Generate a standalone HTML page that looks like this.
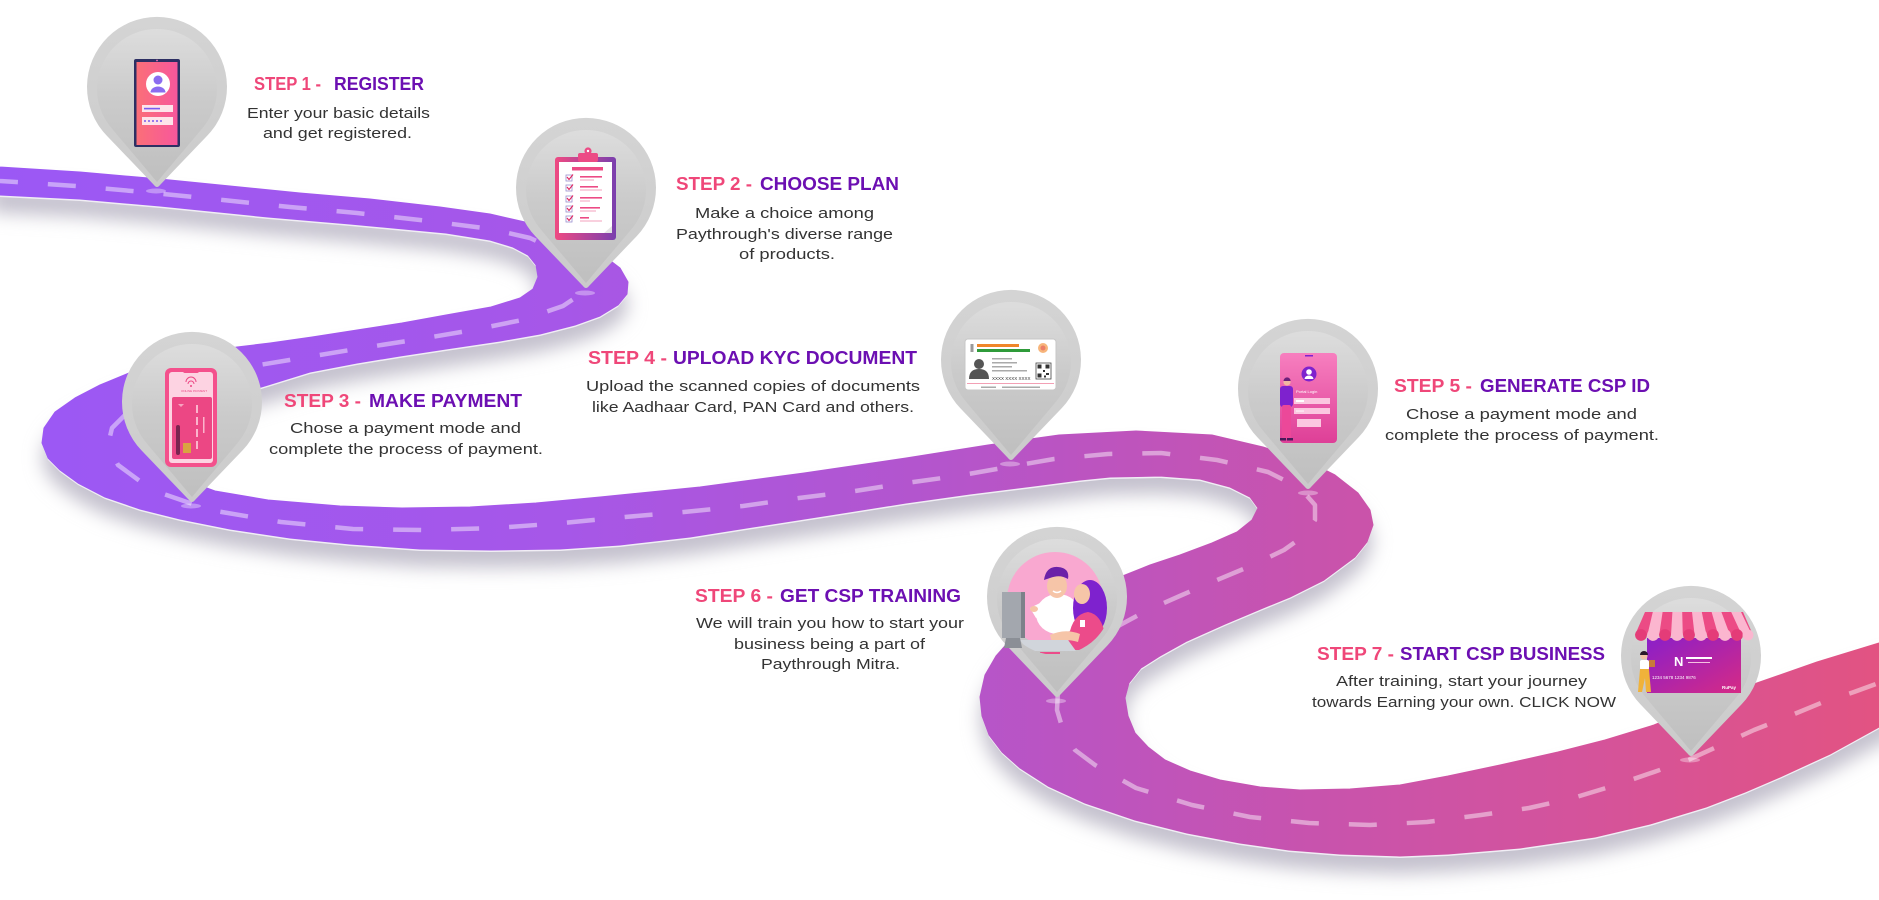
<!DOCTYPE html>
<html>
<head>
<meta charset="utf-8">
<style>
  html,body{margin:0;padding:0;background:#fff;}
  svg{display:block;}
  .t{font-family:"Liberation Sans",Arial,sans-serif;font-weight:bold;font-size:18px;}
  .pk{fill:#ef4779;}
  .pu{fill:#6c0fb2;}
  .b{font-family:"Liberation Sans",Arial,sans-serif;font-size:15px;fill:#333;}
</style>
</head>
<body>
<svg width="1879" height="900" viewBox="0 0 1879 900" xmlns="http://www.w3.org/2000/svg">
<defs>
  <linearGradient id="road" gradientUnits="userSpaceOnUse" x1="0" y1="0" x2="1879" y2="0">
    <stop offset="0" stop-color="#9b58f5"/>
    <stop offset="0.3" stop-color="#a657e8"/>
    <stop offset="0.5" stop-color="#b455cc"/>
    <stop offset="0.7" stop-color="#c853ad"/>
    <stop offset="0.85" stop-color="#d5539a"/>
    <stop offset="1" stop-color="#e25382"/>
  </linearGradient>
  <linearGradient id="pinO" x1="0" y1="0" x2="0" y2="1">
    <stop offset="0" stop-color="#d4d4d4"/>
    <stop offset="1" stop-color="#cbcbcb"/>
  </linearGradient>
  <linearGradient id="pinI" x1="0" y1="0" x2="0" y2="1">
    <stop offset="0" stop-color="#dddddd"/>
    <stop offset="0.45" stop-color="#cbcbcb"/>
    <stop offset="1" stop-color="#bfbfbf"/>
  </linearGradient>
  <linearGradient id="gPh1" x1="0" y1="0" x2="1" y2="0">
    <stop offset="0" stop-color="#fb6f78"/>
    <stop offset="1" stop-color="#f7579c"/>
  </linearGradient>
  <linearGradient id="gClip" x1="0" y1="0" x2="1" y2="0">
    <stop offset="0" stop-color="#ef4a82"/>
    <stop offset="1" stop-color="#7a3fae"/>
  </linearGradient>
  <linearGradient id="gP5" x1="0" y1="0" x2="0" y2="1">
    <stop offset="0" stop-color="#f77fbf"/>
    <stop offset="1" stop-color="#de3f97"/>
  </linearGradient>
  <linearGradient id="gCard" x1="0" y1="0" x2="1" y2="1">
    <stop offset="0" stop-color="#8a1fc9"/>
    <stop offset="1" stop-color="#d62a85"/>
  </linearGradient>
  <filter id="sh" x="-5%" y="-10%" width="110%" height="130%">
    <feGaussianBlur stdDeviation="9"/>
  </filter>
  <clipPath id="c6"><circle cx="1056" cy="599" r="56"/></clipPath>
  <path id="pO" d="M-50.4,48.5 A70,70 0 1 1 50.4,48.5 L3,98 Q0,102 -3,98 Z"/>
  <path id="pI" d="M-45.8,39.7 A60,60 0 1 1 45.8,39.7 L0,94 Z"/>
</defs>

<!-- ROAD SHADOW -->
<path transform="translate(0,18)" filter="url(#sh)" fill="#c4c1ce" d="M-10,166 L0,167 80,172 160,179 230,186 300,193 370,199 440,207 490,214 525,222 555,232 582,243 603,255 620,268 628,282 627,294 618,305 600,316 575,325 540,334 500,341 446,349 400,356 357,363 310,372 268,385 235,395 200,408 172,425 160,445 166,465 185,480 215,491 268,500 340,506 402,508 470,507 536,503 600,497 700,487 804,473 906,458 988,445 1059,435 1136,431 1212,435 1263,447 1305,460 1335,475 1358,493 1370,510 1373,525 1367,542 1355,557 1324,580 1290,597 1263,608 1225,624 1187,641 1160,656 1141,668 1129,683 1125,698 1128,716 1135,733 1148,747 1165,760 1190,771 1220,780 1260,787 1300,790 1350,789 1400,785 1448,776 1500,765 1558,752 1605,740 1654,725 1700,706 1754,684 1817,662 1879,643 1895,637 L1895,719 1879,727 1830,754 1780,777 1745,792 1706,807 1650,824 1595,837 1520,848 1448,854 1400,856 1340,854 1289,850 1240,843 1187,833 1135,820 1085,803 1048,786 1020,768 1002,752 989,735 982,716 980,697 985,675 996,656 1012,638 1035,621 1070,601 1110,581 1150,565 1180,555 1212,543 1237,532 1252,520 1258,508 1250,497 1230,487 1200,479 1160,476 1110,477 1080,480 1034,486 970,494 906,503 830,515 753,527 690,537 620,545 560,549 491,550 420,549 350,544 290,538 230,529 180,519 140,509 105,497 78,483 60,470 48,458 42,443 44,428 55,412 75,398 100,385 129,373 150,367 190,356 237,347 270,343 312,337 357,330 402,323 446,315 491,307 520,298 533,289 538,277 536,265 528,255 513,247 490,240 446,233 350,224 268,217 160,206 80,199 0,195 -10,194 Z"/>

<!-- ROAD RIM -->
<path transform="translate(0,2)" fill="#f1eef5" d="M-10,166 L0,167 80,172 160,179 230,186 300,193 370,199 440,207 490,214 525,222 555,232 582,243 603,255 620,268 628,282 627,294 618,305 600,316 575,325 540,334 500,341 446,349 400,356 357,363 310,372 268,385 235,395 200,408 172,425 160,445 166,465 185,480 215,491 268,500 340,506 402,508 470,507 536,503 600,497 700,487 804,473 906,458 988,445 1059,435 1136,431 1212,435 1263,447 1305,460 1335,475 1358,493 1370,510 1373,525 1367,542 1355,557 1324,580 1290,597 1263,608 1225,624 1187,641 1160,656 1141,668 1129,683 1125,698 1128,716 1135,733 1148,747 1165,760 1190,771 1220,780 1260,787 1300,790 1350,789 1400,785 1448,776 1500,765 1558,752 1605,740 1654,725 1700,706 1754,684 1817,662 1879,643 1895,637 L1895,719 1879,727 1830,754 1780,777 1745,792 1706,807 1650,824 1595,837 1520,848 1448,854 1400,856 1340,854 1289,850 1240,843 1187,833 1135,820 1085,803 1048,786 1020,768 1002,752 989,735 982,716 980,697 985,675 996,656 1012,638 1035,621 1070,601 1110,581 1150,565 1180,555 1212,543 1237,532 1252,520 1258,508 1250,497 1230,487 1200,479 1160,476 1110,477 1080,480 1034,486 970,494 906,503 830,515 753,527 690,537 620,545 560,549 491,550 420,549 350,544 290,538 230,529 180,519 140,509 105,497 78,483 60,470 48,458 42,443 44,428 55,412 75,398 100,385 129,373 150,367 190,356 237,347 270,343 312,337 357,330 402,323 446,315 491,307 520,298 533,289 538,277 536,265 528,255 513,247 490,240 446,233 350,224 268,217 160,206 80,199 0,195 -10,194 Z"/>

<!-- ROAD -->
<path fill="url(#road)" stroke="url(#road)" stroke-width="1" stroke-linejoin="round" d="M-10,166 L0,167 80,172 160,179 230,186 300,193 370,199 440,207 490,214 525,222 555,232 582,243 603,255 620,268 628,282 627,294 618,305 600,316 575,325 540,334 500,341 446,349 400,356 357,363 310,372 268,385 235,395 200,408 172,425 160,445 166,465 185,480 215,491 268,500 340,506 402,508 470,507 536,503 600,497 700,487 804,473 906,458 988,445 1059,435 1136,431 1212,435 1263,447 1305,460 1335,475 1358,493 1370,510 1373,525 1367,542 1355,557 1324,580 1290,597 1263,608 1225,624 1187,641 1160,656 1141,668 1129,683 1125,698 1128,716 1135,733 1148,747 1165,760 1190,771 1220,780 1260,787 1300,790 1350,789 1400,785 1448,776 1500,765 1558,752 1605,740 1654,725 1700,706 1754,684 1817,662 1879,643 1895,637 L1895,719 1879,727 1830,754 1780,777 1745,792 1706,807 1650,824 1595,837 1520,848 1448,854 1400,856 1340,854 1289,850 1240,843 1187,833 1135,820 1085,803 1048,786 1020,768 1002,752 989,735 982,716 980,697 985,675 996,656 1012,638 1035,621 1070,601 1110,581 1150,565 1180,555 1212,543 1237,532 1252,520 1258,508 1250,497 1230,487 1200,479 1160,476 1110,477 1080,480 1034,486 970,494 906,503 830,515 753,527 690,537 620,545 560,549 491,550 420,549 350,544 290,538 230,529 180,519 140,509 105,497 78,483 60,470 48,458 42,443 44,428 55,412 75,398 100,385 129,373 150,367 190,356 237,347 270,343 312,337 357,330 402,323 446,315 491,307 520,298 533,289 538,277 536,265 528,255 513,247 490,240 446,233 350,224 268,217 160,206 80,199 0,195 -10,194 Z"/>

<!-- DASHES -->
<path fill="none" stroke="#ffffff" stroke-opacity="0.45" stroke-width="4.5" stroke-dasharray="28 30" stroke-linejoin="round" d="M-10,180 L0,181 76,186 154,193 223,200 290,207 357,213 429,221 491,229 530,238 560,252 578,267 584,282 578,296 563,306 522,320 473,330 420,339 362,348 308,357 259,365 210,378 165,393 130,410 112,428 108,445 118,465 152,490 210,510 281,522 353,529 424,530 496,528 563,523 625,517 684,512 743,506 799,498 855,491 906,483 957,476 1008,467 1054,459 1108,454 1161,453 1217,460 1268,472 1300,488 1315,505 1315,520 1305,535 1284,550 1253,565 1217,580 1182,595 1148,610 1120,625 1090,645 1070,668 1058,690 1057,710 1063,730 1075,750 1095,765 1136,788 1192,805 1250,817 1309,823 1370,825 1427,822 1481,815 1529,808 1573,798 1616,785 1654,772 1688,760 1721,745 1754,730 1787,717 1821,703 1854,692 1895,677"/>

<!-- PIN TIP GLOWS -->
<g fill="#ffffff" fill-opacity="0.35">
  <ellipse cx="156" cy="191" rx="10" ry="2.5"/>
  <ellipse cx="585" cy="293" rx="10" ry="2.5"/>
  <ellipse cx="191" cy="506" rx="10" ry="2.5"/>
  <ellipse cx="1010" cy="464" rx="10" ry="2.5"/>
  <ellipse cx="1308" cy="493" rx="10" ry="2.5"/>
  <ellipse cx="1056" cy="701" rx="10" ry="2.5"/>
  <ellipse cx="1690" cy="760" rx="10" ry="2.5"/>
</g>

<!-- PINS -->
<g>
  <use href="#pO" x="157" y="87" fill="url(#pinO)"/><use href="#pI" x="157" y="88" fill="url(#pinI)"/>
  <use href="#pO" x="586" y="188" fill="url(#pinO)"/><use href="#pI" x="586" y="189" fill="url(#pinI)"/>
  <use href="#pO" x="192" y="402" fill="url(#pinO)"/><use href="#pI" x="192" y="403" fill="url(#pinI)"/>
  <use href="#pO" x="1011" y="360" fill="url(#pinO)"/><use href="#pI" x="1011" y="361" fill="url(#pinI)"/>
  <use href="#pO" x="1308" y="389" fill="url(#pinO)"/><use href="#pI" x="1308" y="390" fill="url(#pinI)"/>
  <use href="#pO" x="1057" y="597" fill="url(#pinO)"/><use href="#pI" x="1057" y="598" fill="url(#pinI)"/>
  <use href="#pO" x="1691" y="656" fill="url(#pinO)"/><use href="#pI" x="1691" y="657" fill="url(#pinI)"/>
</g>

<!-- ICON 1: register phone -->
<g>
  <rect x="134" y="59" width="46" height="88" rx="2" fill="#2d2f63"/>
  <rect x="136.5" y="62" width="41" height="83" fill="url(#gPh1)"/>
  <circle cx="157" cy="60.5" r="0.9" fill="#f472b6"/>
  <circle cx="158" cy="84" r="12" fill="#fff"/>
  <circle cx="158" cy="80" r="4.5" fill="#8b6cf0"/>
  <path d="M150.5,92.5 a7.5,6 0 0 1 15,0 z" fill="#8b6cf0"/>
  <rect x="142" y="105" width="31" height="7" fill="#fde4ea"/>
  <rect x="144" y="107.8" width="16" height="1.6" fill="#7a5af0"/>
  <rect x="142" y="117" width="31" height="8" fill="#fde4ea"/>
  <g fill="#7a5af0"><circle cx="145" cy="121" r="1"/><circle cx="149" cy="121" r="1"/><circle cx="153" cy="121" r="1"/><circle cx="157" cy="121" r="1"/><circle cx="161" cy="121" r="1"/></g>
</g>

<!-- ICON 2: clipboard -->
<g>
  <rect x="555" y="157" width="61" height="83" rx="3" fill="url(#gClip)"/>
  <rect x="559" y="162" width="53" height="71" fill="#fff"/>
  <path d="M604,233 L612,226 L612,233 Z" fill="#e5e5e5"/>
  <rect x="578" y="153" width="20" height="9" rx="2" fill="#ec4b85"/>
  <circle cx="588" cy="151" r="3.6" fill="#ec4b85"/>
  <circle cx="588" cy="151" r="1.2" fill="#fff"/>
  <rect x="572" y="167" width="31" height="3.5" fill="#ec4b85"/>
  <g fill="none" stroke="#9a8fcf" stroke-width="0.8">
    <rect x="566" y="175" width="6" height="6"/><rect x="566" y="185" width="6" height="6"/><rect x="566" y="196" width="6" height="6"/><rect x="566" y="206" width="6" height="6"/><rect x="566" y="216" width="6" height="6"/>
  </g>
  <g fill="none" stroke="#e0245e" stroke-width="1.1">
    <path d="M567,177 l2,2.5 l4,-5"/><path d="M567,187 l2,2.5 l4,-5"/><path d="M567,198 l2,2.5 l4,-5"/><path d="M567,208 l2,2.5 l4,-5"/><path d="M567,218 l2,2.5 l4,-5"/>
  </g>
  <g fill="#ec4b85">
    <rect x="580" y="176" width="22" height="1.6"/><rect x="580" y="186" width="18" height="1.6"/><rect x="580" y="197" width="22" height="1.6"/><rect x="580" y="207" width="20" height="1.6"/><rect x="580" y="217" width="9" height="1.6"/>
  </g>
  <g fill="#f3a0bd">
    <rect x="580" y="179.5" width="14" height="1"/><rect x="580" y="189.5" width="22" height="1"/><rect x="580" y="200.5" width="10" height="1"/><rect x="580" y="210.5" width="16" height="1"/><rect x="580" y="220.5" width="22" height="1"/>
  </g>
</g>

<!-- ICON 3: payment phone -->
<g>
  <rect x="165" y="368" width="52" height="99" rx="6" fill="#f4508c"/>
  <rect x="169" y="372" width="44" height="91" rx="3" fill="#fdd3e2"/>
  <rect x="183" y="369" width="16" height="4" rx="2" fill="#f4508c"/>
  <g fill="none" stroke="#ec4784" stroke-width="1">
    <path d="M186,382 a5,5 0 0 1 10,0"/><path d="M188,384 a3,3 0 0 1 6,0"/>
  </g>
  <circle cx="191" cy="386" r="1" fill="#ec4784"/>
  <text x="181" y="392" font-family="Liberation Sans, sans-serif" font-size="3" fill="#ec4784">ONLINE PAYMENT</text>
  <rect x="172" y="397" width="40" height="62" rx="2" fill="#ec4784"/>
  <g fill="#fbb4cc"><rect x="196" y="405" width="2" height="8"/><rect x="196" y="417" width="2" height="8"/><rect x="196" y="429" width="2" height="8"/><rect x="196" y="441" width="2" height="8"/><rect x="203" y="417" width="1.5" height="16"/></g>
  <rect x="176" y="425" width="4" height="30" rx="2" fill="#7a2450"/>
  <rect x="183" y="443" width="8" height="10" fill="#d9a441"/>
  <path d="M178,404 l3,3 l3,-3 z" fill="#f7a3c0"/>
</g>

<!-- ICON 4: aadhaar card -->
<g>
  <rect x="965" y="339" width="91" height="51" rx="3" fill="#fff" stroke="#c7c7c7" stroke-width="1"/>
  <rect x="970.5" y="344" width="3" height="8" fill="#9a9a9a"/>
  <rect x="977" y="344" width="42" height="3" fill="#f0862a"/>
  <rect x="977" y="349" width="53" height="3" fill="#2f9b3a"/>
  <circle cx="1043" cy="348" r="5" fill="#f5a35a" opacity="0.8"/>
  <circle cx="1043" cy="348" r="2.5" fill="#e55a5a" opacity="0.6"/>
  <circle cx="979" cy="364" r="5" fill="#555"/>
  <path d="M969,379 Q969,369 979,369 Q989,369 989,379 Z" fill="#555"/>
  <g fill="#aaa"><rect x="992" y="358" width="20" height="1.5"/><rect x="992" y="362" width="25" height="1.5"/><rect x="992" y="366" width="20" height="1.5"/><rect x="992" y="370" width="35" height="1.5"/></g>
  <rect x="1036" y="363" width="15" height="16" fill="#fff" stroke="#444" stroke-width="0.8"/>
  <g fill="#333"><rect x="1037.5" y="364.5" width="4" height="4"/><rect x="1045.5" y="364.5" width="4" height="4"/><rect x="1037.5" y="373.5" width="4" height="4"/><rect x="1043" y="370" width="2" height="2"/><rect x="1046" y="373" width="3" height="2"/><rect x="1044" y="375.5" width="2" height="2"/></g>
  <text x="992" y="380" font-family="Liberation Sans, sans-serif" font-size="4.5" fill="#333">XXXX XXXX XXXX</text>
  <rect x="967" y="383" width="87" height="1" fill="#f3a0b5"/>
  <rect x="981" y="386.5" width="15" height="1.5" fill="#aaa"/>
  <rect x="1002" y="386.5" width="38" height="1.5" fill="#aaa"/>
</g>

<!-- ICON 5: CSP id phone -->
<g>
  <rect x="1280" y="353" width="57" height="90" rx="4" fill="url(#gP5)"/>
  <rect x="1305" y="355" width="8" height="1.5" fill="#7e22ce"/>
  <circle cx="1309" cy="374" r="7.5" fill="#7e22ce"/>
  <circle cx="1309" cy="372" r="2.8" fill="#fff"/>
  <path d="M1304.5,379 a4.5,3.5 0 0 1 9,0 z" fill="#fff"/>
  <text x="1296" y="393" font-family="Liberation Sans, sans-serif" font-size="4" fill="#fff">Portal Login</text>
  <rect x="1294" y="398" width="36" height="6" fill="#fbc7e0"/>
  <rect x="1294" y="408" width="36" height="6" fill="#fbc7e0"/>
  <rect x="1297" y="419" width="24" height="8" fill="#fbc7e0"/>
  <g fill="#fff"><rect x="1296" y="400" width="8" height="2"/><circle cx="1297" cy="411" r="0.8"/><circle cx="1299" cy="411" r="0.8"/><circle cx="1301" cy="411" r="0.8"/><circle cx="1303" cy="411" r="0.8"/></g>
  <circle cx="1287" cy="382" r="3.6" fill="#f2b8a0"/>
  <path d="M1283.5,381 a3.6,3.6 0 0 1 7.2,0 z" fill="#6b1f7a"/>
  <rect x="1280" y="386" width="13" height="21" rx="3" fill="#7e22ce"/>
  <rect x="1282" y="405" width="9" height="34" rx="2" fill="#ec4899"/>
  <rect x="1280" y="438" width="6" height="2.5" fill="#4a1a5a"/>
  <rect x="1287" y="438" width="6" height="2.5" fill="#4a1a5a"/>
</g>

<!-- ICON 6: training -->
<g>
  <circle cx="1055" cy="600" r="48" fill="#f9a8d0"/>
  <g clip-path="url(#c6)">
    <ellipse cx="1058" cy="614" rx="22" ry="20" fill="#fff"/>
    <path d="M1030,608 L1050,598 L1054,606 L1036,618 Z" fill="#fff"/>
    <ellipse cx="1034" cy="609" rx="4" ry="3" fill="#f6c5a8"/>
    <ellipse cx="1057" cy="586" rx="10" ry="12" fill="#f6c5a8"/>
    <path d="M1044,580 Q1046,566 1058,567 Q1070,568 1068,579 Q1060,574 1050,578 Z" fill="#6b21a8"/>
    <path d="M1053,591 q4,3 8,0" fill="none" stroke="#fff" stroke-width="1.5"/>
    <ellipse cx="1090" cy="608" rx="17" ry="28" fill="#7e22ce"/>
    <ellipse cx="1082" cy="594" rx="8" ry="10" fill="#f6c5a8"/>
    <path d="M1068,650 Q1068,615 1088,612 Q1106,615 1106,650 Z" fill="#ec4b8a"/>
    <rect x="1080" y="620" width="5" height="7" fill="#fff"/>
    <path d="M1050,635 Q1065,628 1080,634 L1078,642 Q1065,638 1052,642 Z" fill="#f6c5a8"/>
    <path d="M1020,640 L1068,640 L1076,651 L1028,651 Z" fill="#d1d5db"/>
    <rect x="1040" y="652" width="20" height="2" fill="#ec4b8a"/>
  </g>
  <rect x="1002" y="592" width="22" height="46" fill="#a3a7ae"/>
  <rect x="1021" y="592" width="4" height="46" fill="#7d8189"/>
  <path d="M1006,638 L1020,638 L1022,648 L1004,648 Z" fill="#8b8f96"/>
</g>

<!-- ICON 7: shop -->
<g>
  <rect x="1647" y="638" width="94" height="55" fill="url(#gCard)"/>
  <path d="M1645,612 L1743,612 L1753,635 L1635,635 Z" fill="#ec4b85"/>
  <g fill="#fbb6cf">
    <path d="M1652.8,612 L1662.6,612 L1659.2,635 L1647.4,635 Z"/>
    <path d="M1672.4,612 L1682.2,612 L1682.8,635 L1671,635 Z"/>
    <path d="M1692,612 L1701.8,612 L1706.4,635 L1694.6,635 Z"/>
    <path d="M1711.6,612 L1721.4,612 L1730,635 L1718.2,635 Z"/>
    <path d="M1731.2,612 L1741,612 L1752,635 L1741.8,635 Z"/>
  </g>
  <g>
    <circle cx="1641" cy="635" r="5.9" fill="#e43c78"/><circle cx="1653" cy="635" r="5.9" fill="#fbb6cf"/><circle cx="1665" cy="635" r="5.9" fill="#e43c78"/><circle cx="1677" cy="635" r="5.9" fill="#fbb6cf"/><circle cx="1689" cy="635" r="5.9" fill="#e43c78"/><circle cx="1701" cy="635" r="5.9" fill="#fbb6cf"/><circle cx="1713" cy="635" r="5.9" fill="#e43c78"/><circle cx="1725" cy="635" r="5.9" fill="#fbb6cf"/><circle cx="1737" cy="635" r="5.9" fill="#e43c78"/><circle cx="1748" cy="635" r="5.4" fill="#fbb6cf"/>
  </g>
  <text x="1674" y="666" font-family="Liberation Sans, sans-serif" font-weight="bold" font-size="13" fill="#fff">N</text>
  <rect x="1686" y="657" width="26" height="2" fill="#fff"/>
  <rect x="1688" y="662" width="22" height="1" fill="#f5c2e0"/>
  <text x="1652" y="679" font-family="Liberation Sans, sans-serif" font-size="4.5" fill="#fff">1234 5678 1234 9876</text>
  <text x="1722" y="689" font-family="Liberation Sans, sans-serif" font-weight="bold" font-size="4.5" fill="#fff">RuPay</text>
  <circle cx="1644" cy="656" r="3.5" fill="#f2c1a5"/>
  <path d="M1640,655 a4,4 0 0 1 8,0 z" fill="#2a1a2a"/>
  <rect x="1640" y="660" width="9" height="10" rx="2" fill="#fff"/>
  <path d="M1640,669 L1649,669 L1651,692 L1646,692 L1645,678 L1642,692 L1638,692 Z" fill="#f0b23a"/>
  <rect x="1649" y="660" width="6" height="7" fill="#c87a3a"/>
</g>

<!-- TEXT -->
<!-- Step 1 -->
<text class="t pk" x="254" y="90" textLength="67" lengthAdjust="spacingAndGlyphs">STEP 1 -</text>
<text class="t pu" x="334" y="90" textLength="90" lengthAdjust="spacingAndGlyphs">REGISTER</text>
<text class="b" x="247" y="118" textLength="183" lengthAdjust="spacingAndGlyphs">Enter your basic details</text>
<text class="b" x="263" y="138" textLength="149" lengthAdjust="spacingAndGlyphs">and get registered.</text>

<!-- Step 2 -->
<text class="t pk" x="676" y="190" textLength="76" lengthAdjust="spacingAndGlyphs">STEP 2 -</text>
<text class="t pu" x="760" y="190" textLength="139" lengthAdjust="spacingAndGlyphs">CHOOSE PLAN</text>
<text class="b" x="695" y="218" textLength="179" lengthAdjust="spacingAndGlyphs">Make a choice among</text>
<text class="b" x="676" y="239" textLength="217" lengthAdjust="spacingAndGlyphs">Paythrough's diverse range</text>
<text class="b" x="739" y="259" textLength="96" lengthAdjust="spacingAndGlyphs">of products.</text>

<!-- Step 3 -->
<text class="t pk" x="284" y="407" textLength="77" lengthAdjust="spacingAndGlyphs">STEP 3 -</text>
<text class="t pu" x="369" y="407" textLength="153" lengthAdjust="spacingAndGlyphs">MAKE PAYMENT</text>
<text class="b" x="290" y="433" textLength="231" lengthAdjust="spacingAndGlyphs">Chose a payment mode and</text>
<text class="b" x="269" y="454" textLength="274" lengthAdjust="spacingAndGlyphs">complete the process of payment.</text>

<!-- Step 4 -->
<text class="t pk" x="588" y="364" textLength="79" lengthAdjust="spacingAndGlyphs">STEP 4 -</text>
<text class="t pu" x="673" y="364" textLength="244" lengthAdjust="spacingAndGlyphs">UPLOAD KYC DOCUMENT</text>
<text class="b" x="586" y="391" textLength="334" lengthAdjust="spacingAndGlyphs">Upload the scanned copies of documents</text>
<text class="b" x="592" y="412" textLength="322" lengthAdjust="spacingAndGlyphs">like Aadhaar Card, PAN Card and others.</text>

<!-- Step 5 -->
<text class="t pk" x="1394" y="392" textLength="78" lengthAdjust="spacingAndGlyphs">STEP 5 -</text>
<text class="t pu" x="1480" y="392" textLength="170" lengthAdjust="spacingAndGlyphs">GENERATE CSP ID</text>
<text class="b" x="1406" y="419" textLength="231" lengthAdjust="spacingAndGlyphs">Chose a payment mode and</text>
<text class="b" x="1385" y="440" textLength="274" lengthAdjust="spacingAndGlyphs">complete the process of payment.</text>

<!-- Step 6 -->
<text class="t pk" x="695" y="602" textLength="78" lengthAdjust="spacingAndGlyphs">STEP 6 -</text>
<text class="t pu" x="780" y="602" textLength="181" lengthAdjust="spacingAndGlyphs">GET CSP TRAINING</text>
<text class="b" x="696" y="628" textLength="268" lengthAdjust="spacingAndGlyphs">We will train you how to start your</text>
<text class="b" x="734" y="649" textLength="191" lengthAdjust="spacingAndGlyphs">business being a part of</text>
<text class="b" x="761" y="669" textLength="139" lengthAdjust="spacingAndGlyphs">Paythrough Mitra.</text>

<!-- Step 7 -->
<text class="t pk" x="1317" y="660" textLength="77" lengthAdjust="spacingAndGlyphs">STEP 7 -</text>
<text class="t pu" x="1400" y="660" textLength="205" lengthAdjust="spacingAndGlyphs">START CSP BUSINESS</text>
<text class="b" x="1336" y="686" textLength="251" lengthAdjust="spacingAndGlyphs">After training, start your journey</text>
<text class="b" x="1312" y="707" textLength="304" lengthAdjust="spacingAndGlyphs">towards Earning your own. CLICK NOW</text>
</svg>
</body>
</html>
